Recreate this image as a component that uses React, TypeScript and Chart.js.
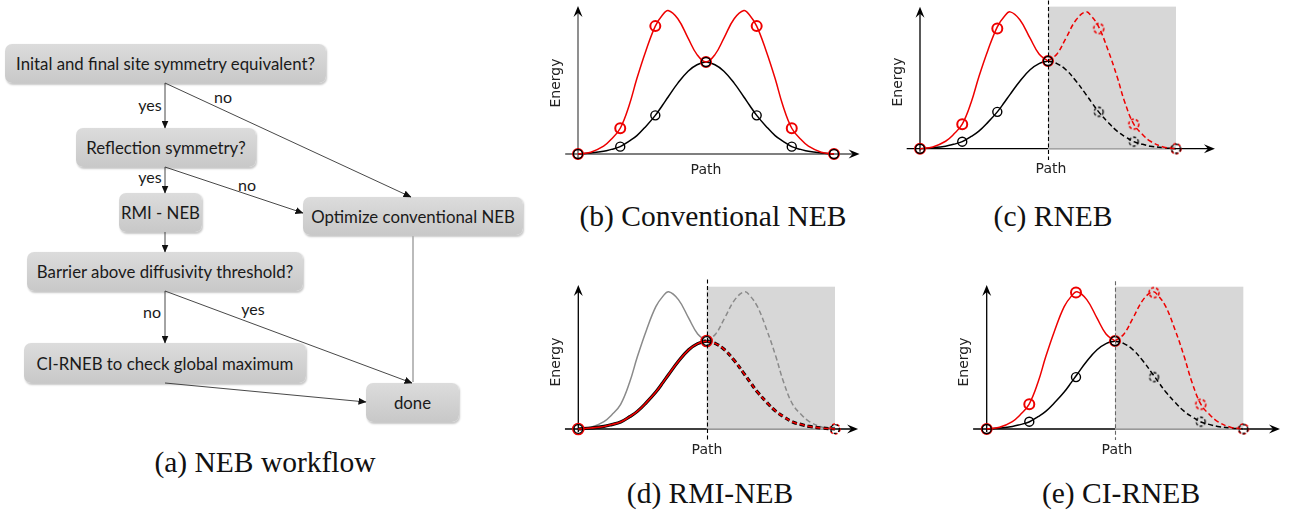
import React, { useEffect, useRef } from "react";
import { Chart, registerables } from "chart.js";

Chart.register(...registerables);

// ---------- data ----------
// sample positions along the normalised reaction path
const pathX = [0, 0.05, 0.1, 0.13, 0.165, 0.2, 0.23, 0.265, 0.302, 0.33, 0.352, 0.39, 0.43, 0.465, 0.5, 0.535, 0.57, 0.61, 0.648, 0.67, 0.698, 0.735, 0.77, 0.8, 0.835, 0.87, 0.9, 0.95, 1];
// double-hump (red / grey) energy profile
const redEnergy = [0, 0.02, 0.085, 0.16, 0.28, 0.53, 0.82, 1.12, 1.39, 1.51, 1.56, 1.47, 1.26, 1.08, 1.0, 1.08, 1.26, 1.47, 1.56, 1.51, 1.39, 1.12, 0.82, 0.53, 0.28, 0.16, 0.085, 0.02, 0];
// single barrier (black) energy profile
const blackEnergy = [0, 0.011, 0.029, 0.05, 0.08, 0.14, 0.2, 0.3, 0.42, 0.53, 0.62, 0.77, 0.9, 0.97, 1.0, 0.97, 0.9, 0.77, 0.62, 0.53, 0.42, 0.3, 0.2, 0.14, 0.08, 0.05, 0.029, 0.011, 0];

// (b) conventional NEB images
const nebImagesX = [0, 0.165, 0.302, 0.5, 0.698, 0.835, 1];
const nebRedE = [0, 0.28, 1.39, 1.0, 1.39, 0.28, 0];
const nebBlackE = [0, 0.08, 0.42, 1.0, 0.42, 0.08, 0];

// (c) RNEB images (computed half + mirrored half)
const rnebImagesX = [0, 0.165, 0.302, 0.5];
const rnebRedE = [0, 0.28, 1.37, 1.0];
const rnebBlackE = [0, 0.08, 0.42, 1.0];
const rnebMirrorX = [0.698, 0.835, 1];
const rnebRedMirrorE = [1.37, 0.28, 0];
const rnebBlackMirrorE = [0.42, 0.08, 0];

// (d) RMI-NEB images
const rmiImagesX = [0, 0.5];
const rmiE = [0, 1.0];
const rmiMirrorX = [1];
const rmiMirrorE = [0];

// (e) CI-RNEB images
const ciImagesX = [0, 0.166, 0.348, 0.5];
const ciRedE = [0, 0.28, 1.55, 1.0];
const ciBlackE = [0, 0.083, 0.59, 1.0];
const ciMirrorX = [0.652, 0.834, 1];
const ciRedMirrorE = [1.55, 0.28, 0];
const ciBlackMirrorE = [0.59, 0.083, 0];

// flowchart
const flowBoxes = [
  { text: "Inital and final site symmetry equivalent?", l: 5, t: 44, w: 321, h: 39 },
  { text: "Reflection symmetry?", l: 76, t: 128, w: 180, h: 39 },
  { text: "RMI - NEB", l: 119, t: 193, w: 83, h: 39 },
  { text: "Optimize conventional NEB", l: 303, t: 197, w: 220, h: 38 },
  { text: "Barrier above diffusivity threshold?", l: 27, t: 252, w: 276, h: 39 },
  { text: "CI-RNEB to check global maximum", l: 24, t: 343, w: 282, h: 40 },
  { text: "done", l: 366, t: 383, w: 93, h: 39 },
];
const flowLabels = [
  { text: "yes", x: 150, y: 105 },
  { text: "no", x: 223, y: 97 },
  { text: "yes", x: 150, y: 177 },
  { text: "no", x: 247, y: 185 },
  { text: "no", x: 152, y: 312 },
  { text: "yes", x: 253, y: 309 },
];
const flowArrows = [
  [165, 83, 165, 128],
  [165, 83, 411, 197],
  [165, 167, 165, 193],
  [165, 167, 303, 213],
  [165, 232, 165, 252],
  [165, 291, 165, 343],
  [165, 291, 412, 383],
  [165, 383, 366, 402],
];

const captions = [
  { text: "(a) NEB workflow", cx: 265, base: 472 },
  { text: "(b) Conventional NEB", cx: 713, base: 226 },
  { text: "(c) RNEB", cx: 1053, base: 226 },
  { text: "(d) RMI-NEB", cx: 710, base: 503 },
  { text: "(e) CI-RNEB", cx: 1121, base: 503 },
];

// ---------- helpers ----------
const RED = "#ee0000";
const pts = (xs: number[], ys: number[]) => xs.map((x, i) => ({ x, y: ys[i] }));

function dashedCircle(color: string, r: number, lw: number) {
  const s = Math.ceil(2 * r + lw + 2);
  const c = document.createElement("canvas");
  c.width = s;
  c.height = s;
  const g = c.getContext("2d")!;
  g.strokeStyle = color;
  g.lineWidth = lw;
  g.setLineDash([3, 2]);
  g.beginPath();
  g.arc(s / 2, s / 2, r, 0, Math.PI * 2);
  g.stroke();
  return c;
}

function curve(xs: number[], ys: number[], color: string, width: number, dash?: number[]) {
  return {
    data: pts(xs, ys),
    borderColor: color,
    borderWidth: width,
    borderDash: dash || [],
    pointRadius: 0,
    tension: 0.4,
    fill: false,
    clip: false,
  };
}

function markers(xs: number[], ys: number[], color: string, r: number, w: number, dashed?: boolean) {
  return {
    data: pts(xs, ys),
    showLine: false,
    pointRadius: r,
    pointBorderColor: color,
    pointBackgroundColor: "rgba(0,0,0,0)",
    pointBorderWidth: w,
    pointStyle: dashed ? dashedCircle(color, r, w) : "circle",
    clip: false,
  };
}

const MID = pathX.indexOf(0.5);
const left = (a: number[]) => a.slice(0, MID + 1);
const right = (a: number[]) => a.slice(MID);

type PanelCfg = {
  left: number; top: number; width: number; height: number;
  ox: number; oy: number; sx: number; sy: number;
  axis: { xLeft: number; xRight: number; yBottom: number; yTop: number; color: string };
  shade?: { x0: number; x1: number; top: number };
  vline?: { x: number; top: number; bottom: number; color: string };
  energy: [number, number];
  path: [number, number];
  datasets: () => any[];
};

const panels: PanelCfg[] = [
  {
    left: 540, top: 0, width: 335, height: 185, ox: 578, oy: 154, sx: 256, sy: 92,
    axis: { xLeft: -0.05, xRight: 1.1, yBottom: -0.065, yTop: 1.61, color: "#555" },
    energy: [556, 83], path: [706, 170],
    datasets: () => [
      curve(pathX, blackEnergy, "#000", 1.5),
      curve(pathX, redEnergy, RED, 1.5),
      markers(nebImagesX, nebRedE, RED, 5, 2),
      markers(nebImagesX, nebBlackE, "#000", 4.5, 1.4),
    ],
  },
  {
    left: 880, top: 0, width: 345, height: 185, ox: 920, oy: 148.7, sx: 256, sy: 87.7,
    axis: { xLeft: -0.052, xRight: 1.152, yBottom: -0.035, yTop: 1.62, color: "#000" },
    shade: { x0: 0.5, x1: 1, top: 1.62 },
    vline: { x: 0.5, top: 1.69, bottom: -0.13, color: "#000" },
    energy: [898, 82], path: [1051, 169],
    datasets: () => [
      curve(left(pathX), left(blackEnergy), "#000", 1.5),
      curve(right(pathX), right(blackEnergy), "#000", 1.5, [5, 3]),
      curve(left(pathX), left(redEnergy), RED, 1.5),
      curve(right(pathX), right(redEnergy), RED, 1.5, [5, 3]),
      markers(rnebImagesX, rnebRedE, RED, 5, 2),
      markers(rnebMirrorX, rnebRedMirrorE, RED, 5, 1.6, true),
      markers(rnebImagesX, rnebBlackE, "#000", 4.5, 1.4),
      markers(rnebMirrorX, rnebBlackMirrorE, "#000", 4.5, 1.3, true),
    ],
  },
  {
    left: 540, top: 272, width: 330, height: 190, ox: 578.3, oy: 429, sx: 256.7, sy: 88,
    axis: { xLeft: -0.052, xRight: 1.09, yBottom: -0.035, yTop: 1.636, color: "#000" },
    shade: { x0: 0.5, x1: 1, top: 1.617 },
    vline: { x: 0.5, top: 1.7, bottom: -0.125, color: "#000" },
    energy: [556, 362], path: [707, 450],
    datasets: () => [
      curve(left(pathX), left(redEnergy), "#8a8a8a", 1.5),
      curve(right(pathX), right(redEnergy), "#8a8a8a", 1.5, [5, 3]),
      curve(left(pathX), left(blackEnergy), "#000", 3.2),
      curve(right(pathX), right(blackEnergy), "#000", 3.2, [5, 3]),
      curve(left(pathX), left(blackEnergy), RED, 1.6),
      curve(right(pathX), right(blackEnergy), RED, 1.6, [5, 3]),
      markers(rmiImagesX, rmiE, RED, 5.5, 1.6),
      markers(rmiMirrorX, rmiMirrorE, RED, 5, 1.5, true),
      markers(rmiImagesX, rmiE, "#000", 4.3, 1.3),
      markers(rmiMirrorX, rmiMirrorE, "#000", 4.3, 1.2, true),
    ],
  },
  {
    left: 945, top: 272, width: 344, height: 190, ox: 986.7, oy: 429, sx: 256.6, sy: 88,
    axis: { xLeft: -0.053, xRight: 1.143, yBottom: -0.035, yTop: 1.636, color: "#000" },
    shade: { x0: 0.5, x1: 1, top: 1.617 },
    vline: { x: 0.5, top: 1.68, bottom: -0.125, color: "#666" },
    energy: [964.7, 362], path: [1117, 450],
    datasets: () => [
      curve(left(pathX), left(blackEnergy), "#000", 1.5),
      curve(right(pathX), right(blackEnergy), "#000", 1.5, [5, 3]),
      curve(left(pathX), left(redEnergy), RED, 1.5),
      curve(right(pathX), right(redEnergy), RED, 1.5, [5, 3]),
      markers(ciImagesX, ciRedE, RED, 5, 2),
      markers(ciMirrorX, ciRedMirrorE, RED, 5, 1.6, true),
      markers(ciImagesX, ciBlackE, "#000", 4.5, 1.4),
      markers(ciMirrorX, ciBlackMirrorE, "#000", 4.5, 1.3, true),
    ],
  },
];

function drawArrowHead(ctx: CanvasRenderingContext2D, x: number, y: number, angle: number, color: string) {
  ctx.save();
  ctx.translate(x, y);
  ctx.rotate(angle);
  ctx.fillStyle = color;
  ctx.beginPath();
  ctx.moveTo(0, 0);
  ctx.lineTo(-11, -4.5);
  ctx.lineTo(-7, 0);
  ctx.lineTo(-11, 4.5);
  ctx.closePath();
  ctx.fill();
  ctx.restore();
}

function EnergyPanel({ cfg }: { cfg: PanelCfg }) {
  const ref = useRef<HTMLCanvasElement | null>(null);
  useEffect(() => {
    const c = cfg;
    const xMin = (c.left - c.ox) / c.sx;
    const xMax = (c.left + c.width - c.ox) / c.sx;
    const yMax = (c.oy - c.top) / c.sy;
    const yMin = (c.oy - (c.top + c.height)) / c.sy;

    const decor = {
      id: "nebDecor",
      beforeDatasetsDraw(chart: any) {
        const ctx = chart.ctx as CanvasRenderingContext2D;
        const xs = chart.scales.x;
        const ys = chart.scales.y;
        const X = (v: number) => xs.getPixelForValue(v);
        const Y = (v: number) => ys.getPixelForValue(v);
        const a = c.axis;
        ctx.save();
        ctx.strokeStyle = a.color;
        ctx.lineWidth = 1.3;
        ctx.beginPath();
        ctx.moveTo(X(a.xLeft), Y(0));
        ctx.lineTo(X(a.xRight) - 6, Y(0));
        ctx.moveTo(X(0), Y(a.yBottom));
        ctx.lineTo(X(0), Y(a.yTop) + 6);
        ctx.stroke();
        ctx.restore();
        drawArrowHead(ctx, X(a.xRight), Y(0), 0, "#000");
        drawArrowHead(ctx, X(0), Y(a.yTop), -Math.PI / 2, "#000");
        if (c.shade) {
          ctx.save();
          ctx.fillStyle = "rgba(205,205,205,0.8)";
          const x0 = X(c.shade.x0), x1 = X(c.shade.x1);
          const y0 = Y(c.shade.top), y1 = Y(0) + 0.8;
          ctx.fillRect(x0, y0, x1 - x0, y1 - y0);
          ctx.restore();
        }
      },
      afterDatasetsDraw(chart: any) {
        const ctx = chart.ctx as CanvasRenderingContext2D;
        const xs = chart.scales.x;
        const ys = chart.scales.y;
        if (c.vline) {
          const x = Math.round(xs.getPixelForValue(c.vline.x)) + 0.5;
          ctx.save();
          ctx.strokeStyle = c.vline.color;
          ctx.lineWidth = 1.1;
          ctx.setLineDash([4, 2.5]);
          ctx.beginPath();
          ctx.moveTo(x, ys.getPixelForValue(c.vline.top));
          ctx.lineTo(x, ys.getPixelForValue(c.vline.bottom));
          ctx.stroke();
          ctx.restore();
        }
        ctx.save();
        ctx.fillStyle = "#222";
        ctx.font = '14px "DejaVu Sans"';
        ctx.textAlign = "center";
        ctx.textBaseline = "middle";
        ctx.fillText("Path", c.path[0] - c.left, c.path[1] - c.top);
        ctx.translate(c.energy[0] - c.left, c.energy[1] - c.top);
        ctx.rotate(-Math.PI / 2);
        ctx.fillText("Energy", 0, 0);
        ctx.restore();
      },
    };

    const ds = c.datasets();
    ds.forEach((d, i) => (d.order = ds.length - i));

    const chart = new Chart(ref.current as HTMLCanvasElement, {
      type: "line",
      data: { datasets: ds },
      options: {
        animation: false,
        responsive: false,
        devicePixelRatio: 1,
        layout: { padding: 0, autoPadding: false },
        events: [],
        plugins: { legend: { display: false }, tooltip: { enabled: false }, title: { display: false } },
        scales: {
          x: { type: "linear", min: xMin, max: xMax, display: false },
          y: { type: "linear", min: yMin, max: yMax, display: false },
        },
      } as any,
      plugins: [decor as any],
    });
    return () => chart.destroy();
  }, [cfg]);
  return (
    <canvas
      ref={ref}
      width={cfg.width}
      height={cfg.height}
      style={{ position: "absolute", left: cfg.left, top: cfg.top, width: cfg.width, height: cfg.height }}
    />
  );
}

function Flowchart() {
  return (
    <>
      {flowBoxes.map((b, i) => (
        <div
          key={i}
          style={{
            position: "absolute",
            left: b.l,
            top: b.t,
            width: b.w,
            height: b.h,
            boxSizing: "border-box",
            borderRadius: 7,
            background: "linear-gradient(#dcdcdc, #c8c8c8)",
            boxShadow: "1px 1.5px 2px rgba(0,0,0,0.22)",
            display: "flex",
            alignItems: "center",
            justifyContent: "center",
            font: '16.8px Lato, "Open Sans", sans-serif',
            color: "#1a1a1a",
            whiteSpace: "nowrap",
          }}
        >
          {b.text}
        </div>
      ))}
      <svg width={540} height={440} style={{ position: "absolute", left: 0, top: 0 }}>
        <defs>
          <marker id="ah" markerWidth="8" markerHeight="7" refX="7.5" refY="3.5" orient="auto" markerUnits="userSpaceOnUse">
            <path d="M0,0 L8,3.5 L0,7 z" fill="#111" />
          </marker>
        </defs>
        <line x1={413} y1={236} x2={413} y2={382} stroke="#b4b4b4" strokeWidth={1.8} />
        {flowArrows.map((a, i) => (
          <line key={i} x1={a[0]} y1={a[1]} x2={a[2]} y2={a[3]} stroke="#333" strokeWidth={0.9} markerEnd="url(#ah)" />
        ))}
      </svg>
      {flowLabels.map((l, i) => (
        <div
          key={i}
          style={{
            position: "absolute",
            left: l.x,
            top: l.y,
            transform: "translate(-50%, -50%)",
            font: '16px Lato, "Open Sans", sans-serif',
            lineHeight: 1,
            color: "#1a1a1a",
          }}
        >
          {l.text}
        </div>
      ))}
    </>
  );
}

export default function App() {
  return (
    <div style={{ position: "fixed", left: 0, top: 0, width: 1289, height: 512, background: "#fff", overflow: "hidden" }}>
      <Flowchart />
      {panels.map((p, i) => (
        <EnergyPanel key={i} cfg={p} />
      ))}
      {captions.map((c, i) => (
        <div
          key={i}
          style={{
            position: "absolute",
            left: c.cx - 200,
            width: 400,
            top: c.base - 24.3,
            textAlign: "center",
            font: '29.5px "Liberation Serif", "Times New Roman", serif',
            lineHeight: "29px",
            color: "#111",
            whiteSpace: "nowrap",
          }}
        >
          {c.text}
        </div>
      ))}
    </div>
  );
}
